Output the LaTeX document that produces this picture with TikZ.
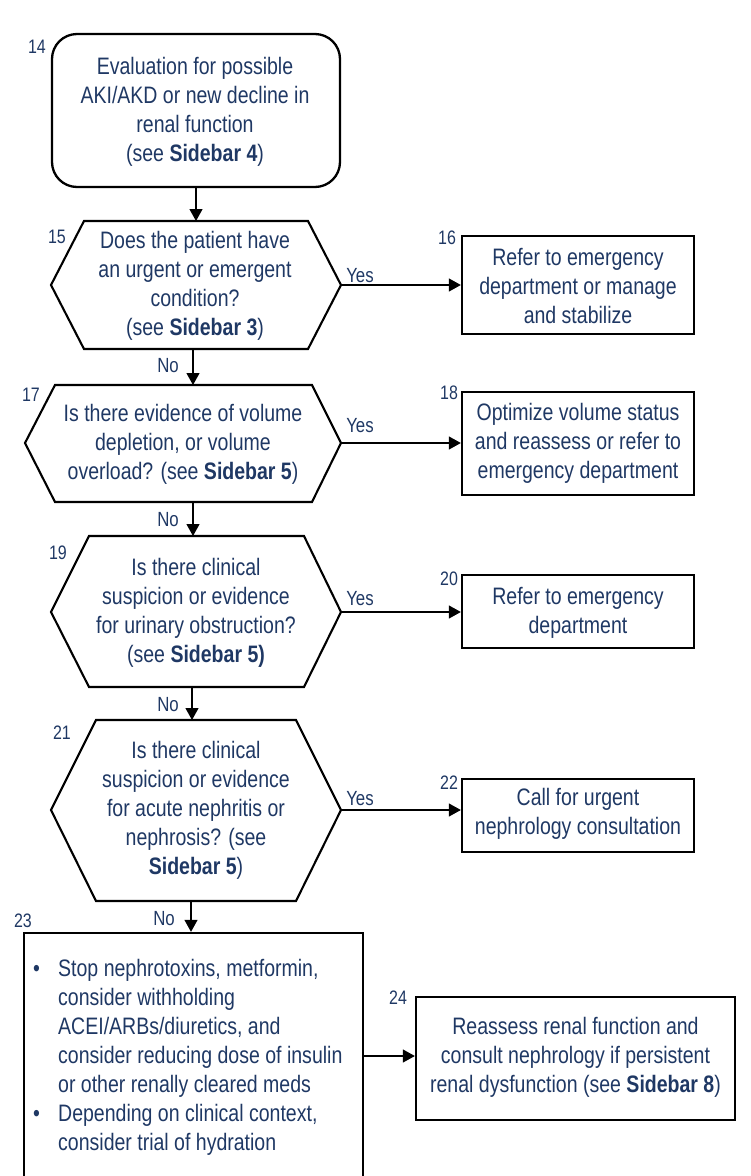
\documentclass[tikz,border=0pt]{standalone}
\usepackage{fontspec}
\setmainfont{Liberation Sans}[FakeStretch=0.82]
\usetikzlibrary{arrows.meta}
\definecolor{navy}{HTML}{1F3864}
\begin{document}
\begin{tikzpicture}[x=1pt,y=-1pt,
  txt/.style={text=navy, font=\fontsize{23.8}{29}\selectfont, align=center, inner sep=0pt},
  num/.style={text=navy, font=\fontsize{19.5}{22}\selectfont, inner sep=0pt},
  lbl/.style={text=navy, font=\fontsize{20.5}{22}\selectfont, inner sep=0pt},
  boxst/.style={draw=black, line width=2.3pt, inner sep=0pt},
  hexst/.style={draw=black, line width=2.1pt, line join=miter},
  arr/.style={draw=black, line width=1.1pt, -{Triangle[length=12pt,width=13pt]}}]
\useasboundingbox (0,0) rectangle (751,1176);

% Box 14
\node[boxst, rounded corners=25pt, minimum width=288pt, minimum height=153pt] (b14) at (196,110.5) {};
\node[txt] (t14) at (195,111.5) {Evaluation for possible\\AKI/AKD or new decline in\\renal function\\(see \textbf{Sidebar 4})};
\node[num] (n14) at (37,47) {14};

% Hex 15
\coordinate (h15W) at (51,285); \coordinate (h15E) at (341,285);
\coordinate (h15N) at (196,221); \coordinate (h15S) at (193,349);
\draw[hexst] (h15W) -- (84,221) -- (308,221) -- (h15E) -- (308,349) -- (84,349) -- cycle;
\node[txt] (q15) at (195,285.5) {Does the patient have\\an urgent or emergent\\condition?\\(see \textbf{Sidebar 3})};
\node[num] (n15) at (57,237) {15};

% Box 16
\node[boxst, minimum width=232pt, minimum height=98pt] (b16) at (578,285) {};
\node[txt] (t16) at (578,286) {Refer to emergency\\department or manage\\and stabilize};
\node[num] (n16) at (447,238) {16};

% Hex 17
\coordinate (h17W) at (25,443); \coordinate (h17E) at (341,443);
\coordinate (h17N) at (193,385); \coordinate (h17S) at (193,502);
\draw[hexst] (h17W) -- (55,385) -- (312,385) -- (h17E) -- (312,502) -- (55,502) -- cycle;
\node[txt] (q17) at (183,444) {Is there evidence of volume\\depletion, or volume\\overload? (see \textbf{Sidebar 5})};
\node[num] (n17) at (31,395) {17};

% Box 18
\node[boxst, minimum width=232pt, minimum height=103pt] (b18) at (578,443.5) {};
\node[txt] (t18) at (578,443) {Optimize volume status\\and reassess or refer to\\emergency department};
\node[num] (n18) at (449,393) {18};

% Hex 19
\coordinate (h19W) at (51,612); \coordinate (h19E) at (341,612);
\coordinate (h19N) at (193,536); \coordinate (h19S) at (192,687);
\draw[hexst] (h19W) -- (89,536) -- (304,536) -- (h19E) -- (304,687) -- (89,687) -- cycle;
\node[txt] (q19) at (196,612.5) {Is there clinical\\suspicion or evidence\\for urinary obstruction?\\(see \textbf{Sidebar 5)}};
\node[num] (n19) at (58,553) {19};

% Box 20
\node[boxst, minimum width=232pt, minimum height=73pt] (b20) at (578,611.5) {};
\node[txt] (t20) at (578,612.5) {Refer to emergency\\department};
\node[num] (n20) at (449,579) {20};

% Hex 21
\coordinate (h21W) at (51,810); \coordinate (h21E) at (341,810);
\coordinate (h21N) at (192,720); \coordinate (h21S) at (191,901);
\draw[hexst] (h21W) -- (96,720) -- (296,720) -- (h21E) -- (296,901) -- (96,901) -- cycle;
\node[txt] (q21) at (196,810) {Is there clinical\\suspicion or evidence\\for acute nephritis or\\nephrosis? (see\\\textbf{Sidebar 5})};
\node[num] (n21) at (62,733) {21};

% Box 22
\node[boxst, minimum width=232pt, minimum height=73pt] (b22) at (578,815.5) {};
\node[txt] (t22) at (578,813.5) {Call for urgent\\nephrology consultation};
\node[num] (n22) at (449,783) {22};

% Box 23 (runs past the bottom edge)
\node[boxst, minimum width=339pt, minimum height=280pt] (b23) at (193.5,1073) {};
\node[txt, align=left, anchor=base west] (t23) at (33,976) {\begin{tabular}[t]{@{}p{25pt}@{}l@{}}
\textbullet & Stop nephrotoxins, metformin,\\
 & consider withholding\\
 & ACEI/ARBs/diuretics, and\\
 & consider reducing dose of insulin\\
 & or other renally cleared meds\\
\textbullet & Depending on clinical context,\\
 & consider trial of hydration
\end{tabular}};
\node[num] (n23) at (23,921) {23};

% Box 24
\node[boxst, minimum width=319pt, minimum height=123pt] (b24) at (575.5,1058.5) {};
\node[txt] (t24) at (575.5,1057.5) {Reassess renal function and\\consult nephrology if persistent\\renal dysfunction (see \textbf{Sidebar 8})};
\node[num] (n24) at (398,998) {24};

% Connectors
\draw[arr] (b14.south -| h15N) -- (h15N);
\draw[arr] (h15E) -- (b16.west |- h15E);
\draw[arr] (h15S) -- (h17N);
\draw[arr] (h17E) -- (b18.west |- h17E);
\draw[arr] (h17S) -- (h19N);
\draw[arr] (h19E) -- (b20.west |- h19E);
\draw[arr] (h19S) -- (h21N);
\draw[arr] (h21E) -- (b22.west |- h21E);
\draw[arr] (h21S) -- (b23.north -| h21S);
\draw[arr] (b23.east |- 0,1056) -- (b24.west |- 0,1056);

% Labels
\node[lbl] (y15) at (360,276) {Yes};
\node[lbl] (y17) at (360,426) {Yes};
\node[lbl] (y19) at (360,599) {Yes};
\node[lbl] (y21) at (360,799) {Yes};
\node[lbl] (no15) at (168,366) {No};
\node[lbl] (no17) at (168,520) {No};
\node[lbl] (no19) at (168,705) {No};
\node[lbl] (no21) at (164,919) {No};
\end{tikzpicture}
\end{document}
